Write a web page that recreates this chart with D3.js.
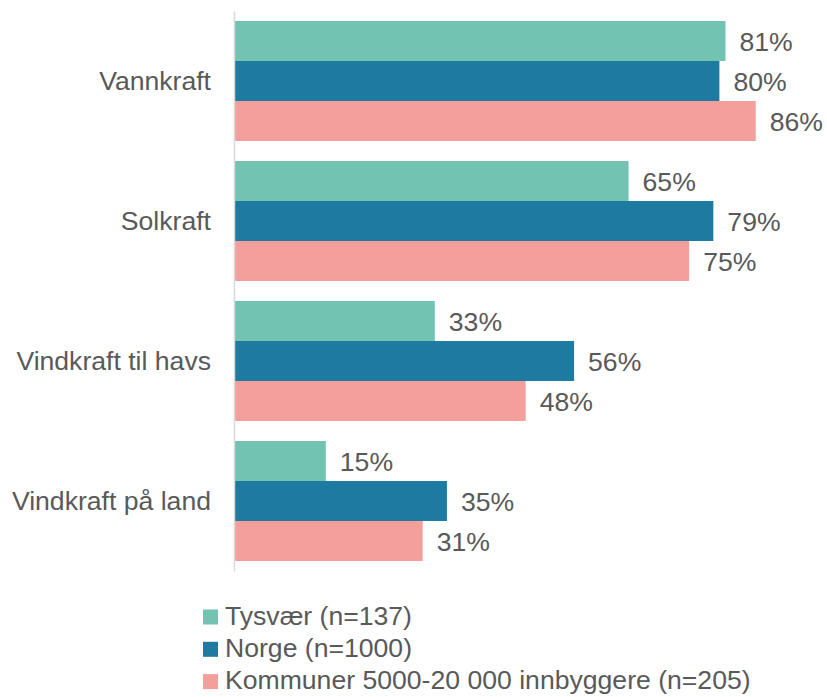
<!DOCTYPE html>
<html>
<head>
<meta charset="utf-8">
<script src="https://cdn.jsdelivr.net/npm/d3@7"></script>
<style>
  body { margin: 0; background: #fff; }
  text { font-family: "Liberation Sans", Arial, sans-serif; fill: #595959; }
</style>
</head>
<body>
<div id="chart"></div>
<script>
var categories = ["Vannkraft", "Solkraft", "Vindkraft til havs", "Vindkraft på land"];
var seriesNames = ["Tysvær (n=137)", "Norge (n=1000)", "Kommuner 5000-20 000 innbyggere (n=205)"];
var tysvaer = [81, 65, 33, 15];
var norge = [80, 79, 56, 35];
var kommuner = [86, 75, 48, 31];
var colors = ["#72c3b2", "#1d7aa0", "#f59f9c"];

var svgWidth = 827;
var svgHeight = 697;
var fontSize = 26.6;

var svg = d3.select("#chart")
  .append("svg")
  .attr("width", svgWidth)
  .attr("height", svgHeight);

var seriesValues = [tysvaer, norge, kommuner];
var rows = categories.map((c, i) => ({
  category: c,
  values: seriesValues.map((s, j) => ({ key: j, value: s[i] }))
}));

var yScale = d3.scaleBand()
  .domain(categories)
  .range([11, 571])
  .paddingInner(0.143)
  .paddingOuter(0.0715);

var ySub = d3.scaleBand()
  .domain([0, 1, 2])
  .range([0, yScale.bandwidth()]);

var xScale = d3.scaleLinear()
  .domain([0, 100])
  .range([235, 840.5]);

var groups = svg.append("g")
  .selectAll("g")
  .data(rows)
  .enter()
  .append("g")
  .attr("transform", d => `translate(0, ${yScale(d.category)})`);

groups.selectAll("rect")
  .data(d => d.values)
  .enter()
  .append("rect")
  .attr("x", xScale(0))
  .attr("y", d => ySub(d.key))
  .attr("width", d => xScale(d.value) - xScale(0))
  .attr("height", ySub.bandwidth())
  .attr("fill", d => colors[d.key]);

groups.selectAll("text")
  .data(d => d.values)
  .enter()
  .append("text")
  .attr("x", d => xScale(d.value) + 14)
  .attr("y", d => ySub(d.key) + ySub.bandwidth() / 2 + 1)
  .attr("dominant-baseline", "central")
  .attr("font-size", fontSize + "px")
  .text(d => d.value + "%");

// category axis
var yAxis = svg.append("g")
  .attr("transform", "translate(234, 0)")
  .call(d3.axisLeft(yScale).tickSize(0).tickPadding(23).tickSizeOuter(0));

yAxis.select(".domain")
  .attr("stroke", "#d9d9d9")
  .attr("stroke-width", 1.5);

yAxis.selectAll("text")
  .attr("font-size", fontSize + "px")
  .attr("font-family", null)
  .attr("fill", "#595959")
  .attr("dy", "0.35em");

// legend
var legend = svg.append("g")
  .selectAll("g")
  .data(seriesNames)
  .enter()
  .append("g")
  .attr("transform", (d, i) => `translate(203, ${617 + i * 32.3})`);

legend.append("rect")
  .attr("x", 0)
  .attr("y", -7.5)
  .attr("width", 15)
  .attr("height", 15)
  .attr("fill", (d, i) => colors[i]);

legend.append("text")
  .attr("x", 22)
  .attr("y", -1.5)
  .attr("dominant-baseline", "central")
  .attr("font-size", fontSize + "px")
  .text(d => d);
</script>
</body>
</html>
